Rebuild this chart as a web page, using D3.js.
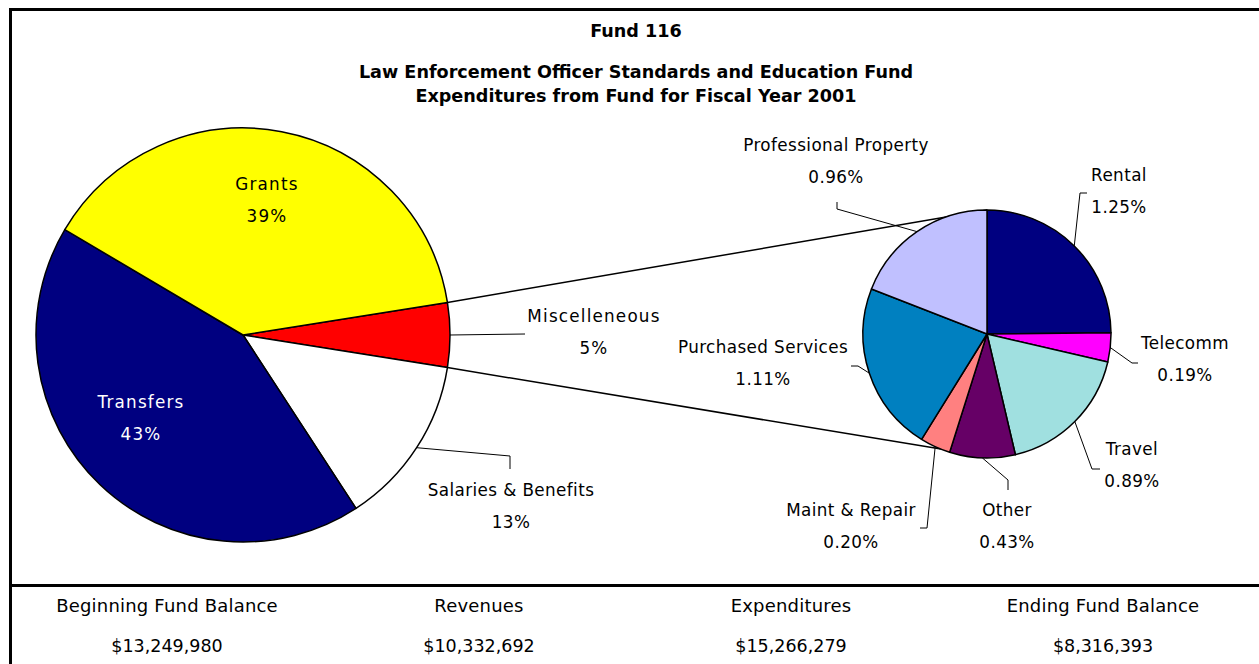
<!DOCTYPE html>
<html>
<head>
<meta charset="utf-8">
<script src="https://cdn.jsdelivr.net/npm/d3@7"></script>
<style>
  body { margin: 0; background: #fff; }
  text { font-family: "DejaVu Sans", Verdana, sans-serif; fill: #000; }
</style>
</head>
<body>
<svg id="drawing_region"></svg>
<script>
// ---- data ----
const titleLines = ["Fund 116", "Law Enforcement Officer Standards and Education Fund", "Expenditures from Fund for Fiscal Year 2001"];

const mainLabels = ["Miscelleneous", "Salaries & Benefits", "Transfers", "Grants"];
const mainValues = [5.03, 13.3, 42.7, 39.0];
const mainPctText = ["5%", "13%", "43%", "39%"];

const subLabels = ["Rental", "Telecomm", "Travel", "Other", "Maint & Repair", "Purchased Services", "Professional Property"];
const subValues = [1.25, 0.19, 0.89, 0.43, 0.20, 1.11, 0.96];
const subPctText = ["1.25%", "0.19%", "0.89%", "0.43%", "0.20%", "1.11%", "0.96%"];

const summaryLabels = ["Beginning Fund Balance", "Revenues", "Expenditures", "Ending Fund Balance"];
const summaryValues = ["$13,249,980", "$10,332,692", "$15,266,279", "$8,316,393"];

// ---- styling / layout ----
const mainColors = {"Miscelleneous": "#ff0000", "Salaries & Benefits": "#ffffff", "Transfers": "#000080", "Grants": "#ffff00"};
const subColors = {"Rental": "#000080", "Telecomm": "#ff00ff", "Travel": "#a0e0e0", "Other": "#660066",
                   "Maint & Repair": "#ff8080", "Purchased Services": "#0080c0", "Professional Property": "#c0c0ff"};

const W = 1259, H = 664;
const main = {cx: 243, cy: 335, r: 207};
const sub = {cx: 987, cy: 334, r: 124};

// label anchors and leader elbows (Excel places these by hand)
const labelLayout = {
    "Grants":              {x: 267, y: 184, fill: "#000", ls: 1.2},
    "Transfers":           {x: 141, y: 402, fill: "#fff", ls: 1.2},
    "Miscelleneous":       {x: 594, y: 316, ls: 1.2, leader: [[525, 334]]},
    "Salaries & Benefits": {x: 511, y: 490, leader: [[510, 456], [510, 469]]},
    "Rental":              {x: 1119, y: 175, leader: [[1080, 193], [1087, 193]]},
    "Telecomm":            {x: 1185, y: 343, leader: [[1132, 363], [1138, 363]]},
    "Travel":              {x: 1132, y: 449, leader: [[1092, 469], [1100, 469]]},
    "Other":               {x: 1007, y: 510, leader: [[1008, 480], [1008, 490]]},
    "Maint & Repair":      {x: 851, y: 510, leader: [[927, 528], [920, 528]]},
    "Purchased Services":  {x: 763, y: 347, leader: [[858, 366], [851, 366]]},
    "Professional Property": {x: 836, y: 145, leader: [[837, 209], [837, 202]]}
};

const svg = d3.select('#drawing_region').attr('width', W).attr('height', H);

// frame
svg.append('path')
    .attr('d', `M${W},9.5 H10.5 V${H}`)
    .attr('fill', 'none').attr('stroke', '#000').attr('stroke-width', 3);
svg.append('line')
    .attr('x1', 10).attr('x2', W).attr('y1', 585.5).attr('y2', 585.5)
    .attr('stroke', '#000').attr('stroke-width', 3);

// titles
svg.selectAll('text.title')
    .data(titleLines)
    .enter()
    .append('text')
    .attr('class', 'title')
    .attr('x', 636)
    .attr('y', (d, i) => i === 0 ? 31 : 72 + (i - 1) * 24)
    .attr('dy', '0.35em')
    .attr('text-anchor', 'middle')
    .style('font-size', '17.6px')
    .style('font-weight', 'bold')
    .text(d => d);

const point = (c, a, r) => [c.cx + r * Math.sin(a), c.cy - r * Math.cos(a)];

// main pie: misc slice centred on 3 o'clock
const mainTotal = d3.sum(mainValues);
const miscAngle = 2 * Math.PI * mainValues[0] / mainTotal;
const mainStart = Math.PI / 2 - miscAngle / 2;
const mainArcs = d3.pie().sort(null)
    .startAngle(mainStart).endAngle(mainStart + 2 * Math.PI)
    .value(d => d.v)(mainLabels.map((l, i) => ({l, v: mainValues[i], p: mainPctText[i]})));

const subArcs = d3.pie().sort(null)
    .value(d => d.v)(subLabels.map((l, i) => ({l, v: subValues[i], p: subPctText[i]})));

// connector lines from the misc slice to the second pie
const miscArc = mainArcs[0];
const maintArc = subArcs[4];
const connectors = [
    [point(main, miscArc.startAngle, main.r), point(sub, 0, sub.r)],
    [point(main, miscArc.endAngle, main.r), point(sub, (maintArc.startAngle + maintArc.endAngle) / 2 - 0.05, sub.r)]
];
svg.selectAll('line.conn')
    .data(connectors)
    .enter()
    .append('line')
    .attr('x1', d => d[0][0]).attr('y1', d => d[0][1])
    .attr('x2', d => d[1][0]).attr('y2', d => d[1][1])
    .attr('stroke', '#000').attr('stroke-width', 1.5);

function drawPie(c, arcs, colors) {
    const arc = d3.arc().innerRadius(0).outerRadius(c.r);
    const g = svg.append('g').attr('transform', `translate(${c.cx}, ${c.cy})`);
    g.selectAll('path')
        .data(arcs)
        .enter()
        .append('path')
        .attr('d', arc)
        .attr('fill', d => colors[d.data.l])
        .attr('stroke', '#000')
        .attr('stroke-width', 1.5)
        .attr('stroke-linejoin', 'round');

    // leader lines
    const withLeader = arcs.filter(d => labelLayout[d.data.l].leader);
    svg.selectAll(null)
        .data(withLeader)
        .enter()
        .append('polyline')
        .attr('points', d => {
            const mid = (d.startAngle + d.endAngle) / 2;
            return [point(c, mid, c.r)].concat(labelLayout[d.data.l].leader).map(p => p.join(',')).join(' ');
        })
        .attr('fill', 'none')
        .attr('stroke', '#000')
        .attr('stroke-width', 1);

    // labels
    const lab = svg.selectAll(null)
        .data(arcs)
        .enter()
        .append('text')
        .attr('text-anchor', 'middle')
        .style('font-size', '16.8px')
        .style('letter-spacing', d => (labelLayout[d.data.l].ls || 0.4) + 'px')
        .style('fill', d => labelLayout[d.data.l].fill || '#000');
    lab.append('tspan')
        .attr('x', d => labelLayout[d.data.l].x)
        .attr('y', d => labelLayout[d.data.l].y)
        .attr('dy', '0.35em')
        .text(d => d.data.l);
    lab.append('tspan')
        .attr('x', d => labelLayout[d.data.l].x)
        .attr('y', d => labelLayout[d.data.l].y + 32)
        .attr('dy', '0.35em')
        .text(d => d.data.p);
}

drawPie(main, mainArcs, mainColors);
drawPie(sub, subArcs, subColors);

// summary row
const xcol = d3.scaleBand().domain(summaryLabels).range([11, W]);
const summary = svg.selectAll('g.summary')
    .data(summaryLabels)
    .enter()
    .append('g')
    .attr('transform', d => `translate(${xcol(d) + xcol.bandwidth() / 2}, 0)`);
summary.append('text')
    .attr('y', 606).attr('dy', '0.35em')
    .attr('text-anchor', 'middle')
    .style('font-size', '18px')
    .style('letter-spacing', '0.2px')
    .text(d => d);
summary.append('text')
    .attr('y', 646).attr('dy', '0.35em')
    .attr('text-anchor', 'middle')
    .style('font-size', '17.5px')
    .text((d, i) => summaryValues[i]);
</script>
</body>
</html>
